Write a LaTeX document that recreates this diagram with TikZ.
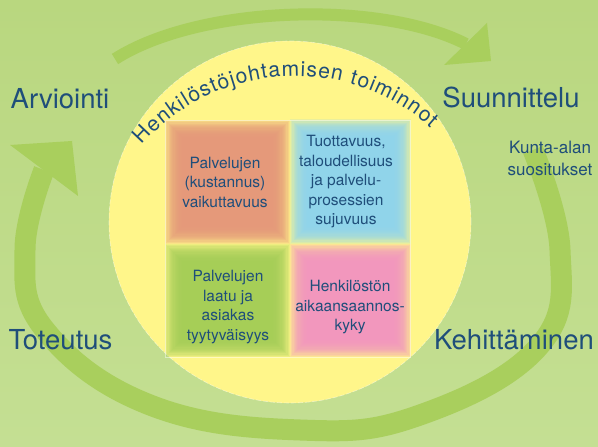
\documentclass[tikz,border=0pt]{standalone}
\usepackage{fontspec}
\setmainfont{TeX Gyre Heros}
\usetikzlibrary{decorations.text}
\definecolor{hrmBgTop}{HTML}{B9D77F}
\definecolor{hrmBgBottom}{HTML}{C4DF93}
\definecolor{hrmArrowGreen}{HTML}{A9CF5D}
\definecolor{hrmYellow}{HTML}{FFF68A}
\definecolor{hrmText}{HTML}{1F4E7A}
\definecolor{hrmOrange}{HTML}{E5967A}
\definecolor{hrmBlue}{HTML}{8DD4F2}
\definecolor{hrmGreen}{HTML}{A4CE57}
\definecolor{hrmPink}{HTML}{F294C2}
\pgfdeclareradialshading{hrmGlow}{\pgfpoint{0bp}{0bp}}{color(0bp)=(hrmYellow); color(39bp)=(hrmYellow); color(45bp)=(hrmYellow!50!hrmBgTop); color(50bp)=(hrmBgTop!94!hrmYellow)}
\newcommand{\softsquare}[5]{%
  \foreach \k in {0,...,14}
    \fill[#1, fill opacity=0.18] ({#2+1.2*\k},{#3+1.2*\k}) rectangle ({#4-1.2*\k},{#5-1.2*\k});}

\begin{document}
\begin{tikzpicture}[x=1pt, y=1pt,
    bigLabel/.style={text=hrmText, font=\fontsize{27.5}{30}\selectfont, anchor=base},
    boxLabel/.style={text=hrmText, font=\fontsize{15.5}{19.5}\selectfont, align=center}]
            \useasboundingbox (0,0) rectangle (598,447);
            \shade[top color=hrmBgTop, bottom color=hrmBgBottom] (0,0) rectangle (598,447);
            \draw[hrmArrowGreen, line width=12pt] (115,388) .. controls (200,442) and (380,447) .. (466,403);
            \fill[hrmArrowGreen] (487,424) -- (491,386) -- (444,382) -- cycle;
            \draw[hrmArrowGreen, line width=21pt] plot[smooth, tension=0.7] coordinates {(533,297) (560,197) (540,102) (420,32) (300,17) (150,42) (45,117) (25,197) (44,277)};
            \fill[hrmArrowGreen] (10,302) -- (72,306) -- (78,251) -- cycle;
            \shade[shading=hrmGlow] (290,225) circle[radius=181];
            \draw[white, opacity=0.45, line width=0.6pt, dash pattern=on 5pt off 2pt] (290,225) circle[radius=181];
            \softsquare{hrmOrange}{165}{203}{290}{327}
            \softsquare{hrmBlue}{290}{203}{411}{328}
            \softsquare{hrmGreen}{165}{90}{290}{203}
            \softsquare{hrmPink}{290}{90}{411}{203}
            \draw[white, opacity=0.45, line width=0.6pt] (165,90) rectangle (410,327);
            \path[decorate, decoration={text along path, text align={fit to path},
                text={|\fontsize{21}{21}\selectfont\color{hrmText}|Henkilöstöjohtamisen toiminnot}}]
                (295,167) ++(138.6:204) arc[start angle=138.6, end angle=48.2, radius=204];
            \node[boxLabel] (kustannus) at (225,265) {Palvelujen\\(kustannus)\\vaikuttavuus};
            \node[boxLabel] (tuottavuus) at (346,265) {Tuottavuus,\\taloudellisuus\\ja palvelu-\\prosessien\\sujuvuus};
            \node[boxLabel] (laatu) at (228,140) {Palvelujen\\laatu ja\\asiakas\\tyytyväisyys};
            \node[boxLabel] (aikaansaannos) at (350,139.5) {Henkilöstön\\aikaansaannos-\\kyky};
            \node[bigLabel] (arviointi) at (60,338) {Arviointi};
            \node[bigLabel] (suunnittelu) at (511,339) {Suunnittelu};
            \node[bigLabel] (toteutus) at (60.5,97) {Toteutus};
            \node[bigLabel] (kehittaminen) at (514,97) {Kehittäminen};
            \node[text=hrmText, font=\fontsize{17}{22}\selectfont, align=center] (suositukset) at (550,289) {Kunta-alan\\suositukset};
        \end{tikzpicture}
\end{document}
